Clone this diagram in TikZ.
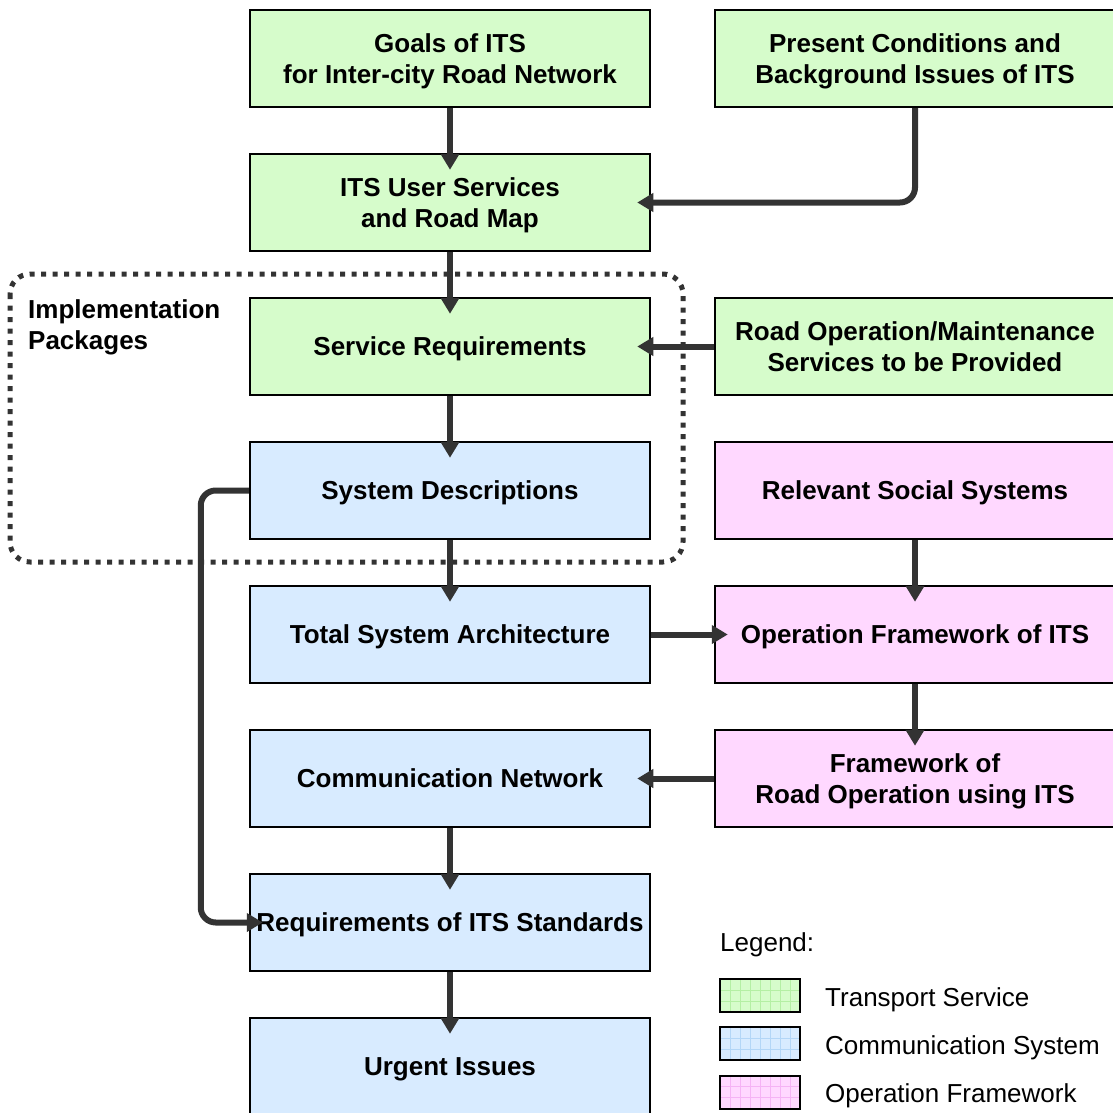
\documentclass[tikz,border=0pt]{standalone}
\usepackage{fontspec}
\setmainfont{Liberation Sans}
\usetikzlibrary{arrows.meta}

\definecolor{tsfill}{HTML}{D6FCCB}
\definecolor{tsgrid}{HTML}{B4EFA4}
\definecolor{csfill}{HTML}{D8EBFF}
\definecolor{csgrid}{HTML}{B3D6F7}
\definecolor{offill}{HTML}{FFD8FF}
\definecolor{ofgrid}{HTML}{F5B3F5}
\definecolor{linkgray}{HTML}{333333}

% centred block of lines, lowered a little inside its box
\newcommand\stagelines[1]{\raisebox{-3pt}[\height][\depth]{\begin{tabular}{@{}c@{}}#1\end{tabular}}}

\tikzset{
  stage/.style={draw=black, line width=2.5pt, minimum width=400pt, minimum height=97pt,
    inner sep=0pt, font=\bfseries\fontsize{26}{31}\selectfont},
  transport/.style={stage, fill=tsfill},
  commsys/.style={stage, fill=csfill},
  opframe/.style={stage, fill=offill},
  link/.style={draw=linkgray, line width=6pt, -{Triangle[length=16pt,width=18pt]}},
  vlink/.style={link, shorten >=-17pt},
  hlink/.style={link, shorten >=-14pt},
  pkgframe/.style={draw=linkgray, line width=5pt, dash pattern=on 5pt off 6.5pt, rounded corners=20pt},
  swatch/.style={draw=black, line width=2pt, minimum width=80pt, minimum height=33pt, inner sep=0pt},
  legendtext/.style={anchor=west, inner sep=0pt, font=\fontsize{26}{30}\selectfont}
}

\begin{document}
\begin{tikzpicture}[x=1pt, y=-1pt]
\useasboundingbox (0,0) rectangle (1113,1113);

% implementation package frame (behind the stages)
\draw[pkgframe] (10,274) rectangle (683,562);
\node[anchor=west, align=left, inner sep=0pt, font=\bfseries\fontsize{26}{31}\selectfont]
  (pkg) at (28,327.5) {Implementation\\Packages};

% left column
\node[transport] (goals)   at (450,58.5)  {\stagelines{Goals of ITS\\for Inter-city Road Network}};
\node[transport] (users)   at (450,202.5) {\stagelines{ITS User Services\\and Road Map}};
\node[transport] (servreq) at (450,346.5) {\stagelines{Service Requirements}};
\node[commsys]   (sysdesc) at (450,490.5) {\stagelines{System Descriptions}};
\node[commsys]   (arch)    at (450,634.5) {\stagelines{Total System Architecture}};
\node[commsys]   (comm)    at (450,778.5) {\stagelines{Communication Network}};
\node[commsys]   (stdreq)  at (450,922.5) {\stagelines{Requirements of ITS Standards}};
\node[commsys]   (urgent)  at (450,1066.5) {\stagelines{Urgent Issues}};

% right column
\node[transport] (present) at (915,58.5)  {\stagelines{Present Conditions and\\Background Issues of ITS}};
\node[transport] (roadop)  at (915,346.5) {\stagelines{Road Operation/Maintenance\\Services to be Provided}};
\node[opframe]   (social)  at (915,490.5) {\stagelines{Relevant Social Systems}};
\node[opframe]   (opfw)    at (915,634.5) {\stagelines{Operation Framework of ITS}};
\node[opframe]   (roadfw)  at (915,778.5) {\stagelines{Framework of\\Road Operation using ITS}};

% connectors
\draw[vlink] (goals) -- (users);
\draw[vlink] (users) -- (servreq);
\draw[vlink] (servreq) -- (sysdesc);
\draw[vlink] (sysdesc) -- (arch);
\draw[vlink] (comm) -- (stdreq);
\draw[vlink] (stdreq) -- (urgent);
\draw[vlink] (social) -- (opfw);
\draw[vlink] (opfw) -- (roadfw);
\draw[hlink, rounded corners=15pt] (present.south) |- (users.east);
\draw[hlink] (roadop) -- (servreq);
\draw[hlink] (arch) -- (opfw);
\draw[hlink] (roadfw) -- (comm);
\draw[hlink, rounded corners=15pt] (sysdesc.west) -- ++(-48,0) |- (stdreq.west);

% legend
\node[anchor=west, inner sep=0pt, font=\fontsize{26}{30}\selectfont] (legend) at (720,945) {Legend:};
\node[swatch, fill=tsfill] (sw1) at (760,995.5) {};
\node[swatch, fill=csfill] (sw2) at (760,1043.5) {};
\node[swatch, fill=offill] (sw3) at (760,1092) {};
\foreach \y/\c in {995.5/tsgrid, 1043.5/csgrid, 1092/ofgrid}{
  \foreach \x in {730,740,...,790}
    \draw[\c, line width=0.8pt] (\x,\y-15.5) -- (\x,\y+15.5);
  \foreach \d in {-5.5,5.5}
    \draw[\c, line width=0.8pt] (721,\y+\d) -- (799,\y+\d);
}
\node[swatch] at (760,995.5) {};
\node[swatch] at (760,1043.5) {};
\node[swatch] at (760,1092) {};
\node[legendtext] (lt1) at (825,999.5) {Transport Service};
\node[legendtext] (lt2) at (825,1047.5) {Communication System};
\node[legendtext] (lt3) at (825,1095.5) {Operation Framework};
\end{tikzpicture}
\end{document}
